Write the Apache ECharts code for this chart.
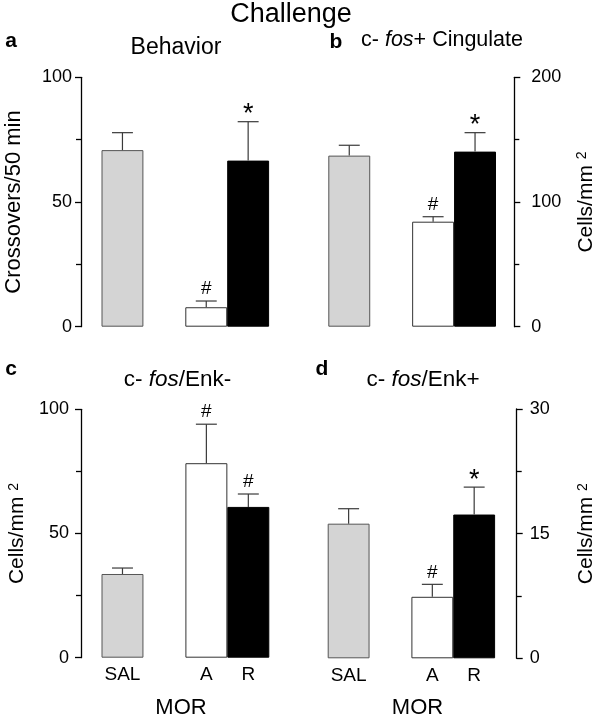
<!DOCTYPE html>
<html><head><meta charset="utf-8">
<script src="https://cdn.jsdelivr.net/npm/echarts@6/dist/echarts.min.js"></script>
<style>html,body{margin:0;padding:0;background:#fff}#c{width:600px;height:719px}</style>
</head><body><div id="c"></div>
<script>
const categories = ['SAL', '', 'A', 'R'];
const behaviorMean = [70.8, null, 7.8, 66.6];
const behaviorErr = [7.0, null, 2.5, 15.6];
const behaviorMarks = ['', '', '#', '*'];
const cingulateMean = [137.2, null, 84.2, 140.4];
const cingulateErr = [8.3, null, 4.0, 15.2];
const cingulateMarks = ['', '', '#', '*'];
const enkNegMean = [33.7, null, 78.3, 60.7];
const enkNegErr = [2.4, null, 15.7, 5.2];
const enkNegMarks = ['', '', '#', '#'];
const enkPosMean = [16.2, null, 7.4, 17.3];
const enkPosErr = [1.8, null, 1.5, 3.3];
const enkPosMarks = ['', '', '#', '*'];
const yMaxes = [100, 200, 100, 30];
const yIntervals = [50, 100, 50, 15];
const yNames = ['Crossovers/50 min', 'Cells/mm {sup|2}', 'Cells/mm {sup|2}', 'Cells/mm {sup|2}'];

const FONT = 'Liberation Sans, Arial, Helvetica, sans-serif';
const fills = ['#d4d4d4', null, '#ffffff', '#000000'];
const borders = ['#555555', null, '#333333', '#000000'];

const panels = [
  {mean: behaviorMean, err: behaviorErr, marks: behaviorMarks, grid: {left: 101.5, top: 77.3, width: 167.6, height: 249.4}, pos: 'left', offset: 20.5, margin: 9, nameGap: 56, nameSize: 22, xLabels: false},
  {mean: cingulateMean, err: cingulateErr, marks: cingulateMarks, grid: {left: 328.3, top: 77.3, width: 167.7, height: 249.4}, pos: 'right', offset: 18.3, margin: 17, nameGap: 61, nameSize: 21, xLabels: false},
  {mean: enkNegMean, err: enkNegErr, marks: enkNegMarks, grid: {left: 101.5, top: 409.3, width: 167.8, height: 248.4}, pos: 'left', offset: 20.5, margin: 12, nameGap: 53, nameSize: 21, xLabels: true},
  {mean: enkPosMean, err: enkPosErr, marks: enkPosMarks, grid: {left: 327.7, top: 409, width: 167.4, height: 249.3}, pos: 'right', offset: 21.6, margin: 13, nameGap: 59, nameSize: 21, xLabels: true}
];

function errorRender(marks) {
  return function (params, api) {
    const i = api.value(0), m = api.value(1), e = api.value(2);
    const base = api.coord([i, m]);
    const tip = api.coord([i, m + e]);
    const half = api.size([1, 0])[0] / 4;
    const mark = marks[i];
    const ls = {stroke: '#3a3a3a', lineWidth: 1.2};
    const children = [
      {type: 'line', shape: {x1: base[0], y1: base[1], x2: tip[0], y2: tip[1]}, style: ls},
      {type: 'line', shape: {x1: tip[0] - half, y1: tip[1], x2: tip[0] + half, y2: tip[1]}, style: ls}
    ];
    if (mark) {
      children.push({type: 'text', x: tip[0], y: tip[1] - (mark === '*' ? 7 : 12),
        style: {text: mark, font: (mark === '*' ? '27px ' : '19px ') + FONT, fill: '#000', align: 'center', verticalAlign: 'middle'}});
    }
    return {type: 'group', children: children};
  };
}

const grid = [], xAxis = [], yAxis = [], series = [];
panels.forEach(function (p, k) {
  grid.push(p.grid);
  xAxis.push({type: 'category', gridIndex: k, data: categories,
    axisLine: {show: false}, axisTick: {show: false}, splitLine: {show: false},
    axisLabel: {show: p.xLabels, interval: 0, color: '#000', fontSize: 19, fontFamily: FONT, margin: 8}});
  yAxis.push({type: 'value', gridIndex: k, min: 0, max: yMaxes[k], interval: yIntervals[k],
    position: p.pos, offset: p.offset,
    axisLine: {show: true, lineStyle: {color: '#000', width: 1.3}},
    axisTick: {show: true, length: 6, lineStyle: {color: '#000', width: 1.3}},
    minorTick: {show: true, splitNumber: 2, length: 5, lineStyle: {color: '#000', width: 1.3}},
    splitLine: {show: false}, minorSplitLine: {show: false},
    axisLabel: {color: '#000', fontSize: 18, fontFamily: FONT, margin: p.margin},
    name: yNames[k], nameLocation: 'middle', nameRotate: 90, nameGap: p.nameGap,
    nameTextStyle: {color: '#000', fontSize: p.nameSize, fontFamily: FONT,
      rich: {sup: {fontSize: 14, fontFamily: FONT, color: '#000', verticalAlign: 'top'}}}});
  series.push({type: 'bar', xAxisIndex: k, yAxisIndex: k, barWidth: '100%', barCategoryGap: '0%',
    silent: true, animation: false,
    data: p.mean.map(function (v, i) {
      return v == null ? '-' : {value: v, itemStyle: {color: fills[i], borderColor: borders[i], borderWidth: 1}};
    })});
  const edata = [];
  p.mean.forEach(function (v, i) { if (v != null) edata.push([i, v, p.err[i]]); });
  series.push({type: 'custom', xAxisIndex: k, yAxisIndex: k, clip: false, silent: true, animation: false, z: 5,
    renderItem: errorRender(p.marks), data: edata});
});

function txt(text, x, y, size, bold, rich) {
  const st = {text: text, x: 0, y: 0, font: (bold ? 'bold ' : '') + size + 'px ' + FONT, fill: '#000', align: 'center', verticalAlign: 'middle'};
  if (rich) st.rich = rich;
  return {type: 'text', x: x, y: y, style: st, silent: true};
}
function ital(size) { return {i: {fontStyle: 'italic', fontSize: size, fontFamily: FONT, fill: '#000'}}; }

const option = {
  animation: false,
  backgroundColor: '#fff',
  grid: grid, xAxis: xAxis, yAxis: yAxis, series: series,
  graphic: [
    txt('Challenge', 291, 15, 27, false),
    txt('a', 11, 41, 21, true),
    txt('Behavior', 176, 48, 23, false),
    txt('b', 336, 42, 21, true),
    txt('c- {i|fos}+ Cingulate', 442, 40, 21.5, false, ital(21.5)),
    txt('c', 11, 369, 21, true),
    txt('c- {i|fos}/Enk-', 177.5, 380, 22.5, false, ital(22.5)),
    txt('d', 322, 369, 21, true),
    txt('c- {i|fos}/Enk+', 423, 380, 22.5, false, ital(22.5)),
    txt('MOR', 181, 708, 22, false),
    txt('MOR', 417.5, 708, 22, false)
  ]
};
const chart = echarts.init(document.getElementById('c'), null, {renderer: 'canvas'});
chart.setOption(option);
</script></body></html>
